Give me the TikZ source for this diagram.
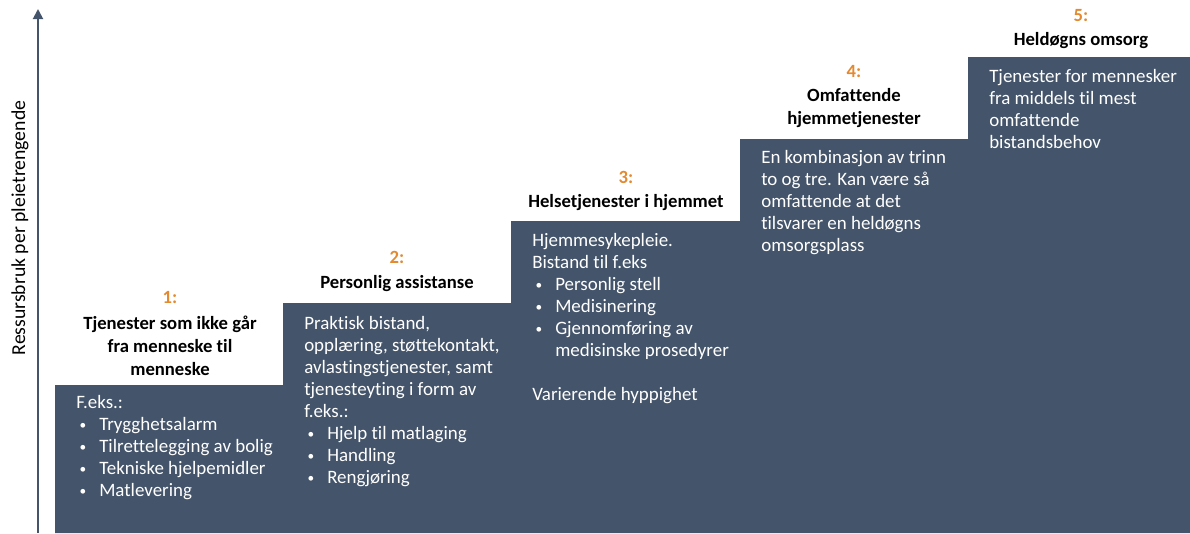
\documentclass[tikz,border=0pt]{standalone}
\usepackage{fontspec}
\setmainfont[Ligatures=NoCommon]{Carlito}
\usetikzlibrary{arrows.meta}
\definecolor{stepfill}{HTML}{44546A}
\definecolor{numorange}{HTML}{E3892F}
\newcommand\bul[1]{\hspace*{2.5pt}\makebox[14.75pt][l]{\raisebox{0.6pt}{\fontsize{10pt}{10pt}\selectfont\textbullet}}#1}
\newcommand\cont[1]{\hspace*{17.25pt}#1}
\tikzset{
 body/.style={anchor=base west, inner sep=0pt, align=left, text=white, font=\fontsize{14.2pt}{16.5pt}\selectfont},
 num/.style={anchor=base, inner sep=0pt, text=numorange, font=\bfseries\fontsize{14pt}{17.25pt}\selectfont},
 title/.style={anchor=base, inner sep=0pt, align=center, text=black, font=\bfseries\fontsize{14pt}{17.25pt}\selectfont},
 axis/.style={draw=stepfill, line width=1.4pt, -{Triangle[width=7.5pt,length=7.5pt]}},
}
% note: anchor=base of a multi-line node sits on its LAST line's baseline
\begin{document}
\begin{tikzpicture}[x=0.75pt,y=-0.75pt]
\useasboundingbox (0,0) rectangle (1190,533);
% staircase
\fill[stepfill] (55,533) |- (283,385) |- (511,303) |- (740,221) |- (968,139) |- (1190,57) -- (1190,533) -- cycle;
% axis
\coordinate (axisbot) at (38,533);
\coordinate (axistop) at (38,9);
\draw[axis] (axisbot) -- (axistop);
\node[rotate=90, inner sep=0pt, font=\fontsize{14.8pt}{17pt}\selectfont] (ylab) at (20,228) {Ressursbruk per pleietrengende};
% step 1
\node[num] (n1) at (170,303) {1:};
\node[title] (t1) at (170,375) {Tjenester som ikke går\\fra menneske til\\menneske};
\node[body] (b1) at (76,496) {F.eks.:\\\bul{Trygghetsalarm}\\\bul{Tilrettelegging av bolig}\\\bul{Tekniske hjelpemidler}\\\bul{Matlevering}};
% step 2
\node[num] (n2) at (397,263) {2:};
\node[title] (t2) at (397,288) {Personlig assistanse};
\node[body] (b2) at (304,483) {Praktisk bistand,\\opplæring, støttekontakt,\\avlastingstjenester, samt\\tjenesteyting i form av\\f.eks.:\\\bul{Hjelp til matlaging}\\\bul{Handling}\\\bul{Rengjøring}};
% step 3
\node[num] (n3) at (626,183) {3:};
\node[title] (t3) at (626,207) {Helsetjenester i hjemmet};
\node[body] (b3) at (532,400) {Hjemmesykepleie.\\Bistand til f.eks\\\bul{Personlig stell}\\\bul{Medisinering}\\\bul{Gjennomføring av}\\\cont{medisinske prosedyrer}\\[16.5pt]Varierende hyppighet};
% step 4
\node[num] (n4) at (854,77) {4:};
\node[title] (t4) at (854,124) {Omfattende\\hjemmetjenester};
\node[body] (b4) at (761,251) {En kombinasjon av trinn\\to og tre. Kan være så\\omfattende at det\\tilsvarer en heldøgns\\omsorgsplass};
% step 5
\node[num] (n5) at (1081,21) {5:};
\node[title] (t5) at (1081,45) {Heldøgns omsorg};
\node[body] (b5) at (989,148) {Tjenester for mennesker\\fra middels til mest\\omfattende\\bistandsbehov};
\end{tikzpicture}
\end{document}
